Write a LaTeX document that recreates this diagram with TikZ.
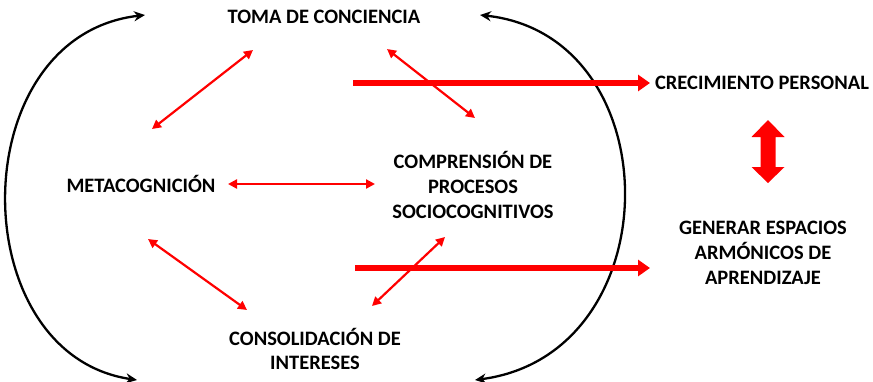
\documentclass[tikz,border=0pt]{standalone}
\usepackage{fontspec}
\setmainfont{Carlito}
\usetikzlibrary{arrows.meta}
\begin{document}
\begin{tikzpicture}[x=1pt,y=-1pt,
  lbl/.style={font=\fontsize{20.5}{24.8}\selectfont\bfseries, text=black, align=center, inner sep=0pt},
  thinred/.style={red, line width=2.2pt, {Triangle[length=9pt,width=9pt]}-{Triangle[length=9pt,width=9pt]}},
  thickred/.style={red, line width=5.5pt, -{Triangle[length=12pt,width=16pt]}},
  cycle/.style={black, line width=2.3pt, {Stealth[length=11pt,width=10pt]}-{Stealth[length=11pt,width=10pt]}}]
\useasboundingbox (0,0) rectangle (873,381);
% labels
\node[lbl] (toma) at (324,17) {TOMA DE CONCIENCIA};
\node[lbl] (meta) at (141,184) {METACOGNICIÓN};
\node[lbl] (comp) at (473,185) {COMPRENSIÓN DE\\PROCESOS\\SOCIOCOGNITIVOS};
\node[lbl] (cons) at (315,349) {CONSOLIDACIÓN DE\\INTERESES};
\node[lbl] (crec) at (762,83) {CRECIMIENTO PERSONAL};
\node[lbl] (gene) at (763,253) {GENERAR ESPACIOS\\ARMÓNICOS DE\\APRENDIZAJE};
% arrow end points
\coordinate (lt) at (145,15);
\coordinate (lb) at (137,380);
\coordinate (rt) at (480,15);
\coordinate (rb) at (475,380);
\coordinate (a1) at (253,50);  \coordinate (b1) at (152,129);
\coordinate (a2) at (387,49);  \coordinate (b2) at (475,118);
\coordinate (a3) at (228,184); \coordinate (b3) at (375,184);
\coordinate (a4) at (148,239); \coordinate (b4) at (247,310);
\coordinate (a5) at (445,237); \coordinate (b5) at (372,306);
\coordinate (s1) at (353,83);  \coordinate (e1) at (650,83);
\coordinate (s2) at (355,268); \coordinate (e2) at (650,268);
% black cycle arcs
\draw[cycle] (lt) .. controls (-38,36) and (-38,354) .. (lb);
\draw[cycle] (rt) .. controls (672,36) and (672,354) .. (rb);
% thin red arrows
\draw[thinred] (a1) -- (b1);
\draw[thinred] (a2) -- (b2);
\draw[thinred] (a3) -- (b3);
\draw[thinred] (a4) -- (b4);
\draw[thinred] (a5) -- (b5);
% thick red arrows
\draw[thickred] (s1) -- (e1);
\draw[thickred] (s2) -- (e2);
% block double arrow
\fill[red] (768,120) -- (784.5,137) -- (775.5,137) -- (775.5,167) -- (784.5,167) -- (768,183)
  -- (751.5,167) -- (760.5,167) -- (760.5,137) -- (751.5,137) -- cycle;
\end{tikzpicture}
\end{document}
